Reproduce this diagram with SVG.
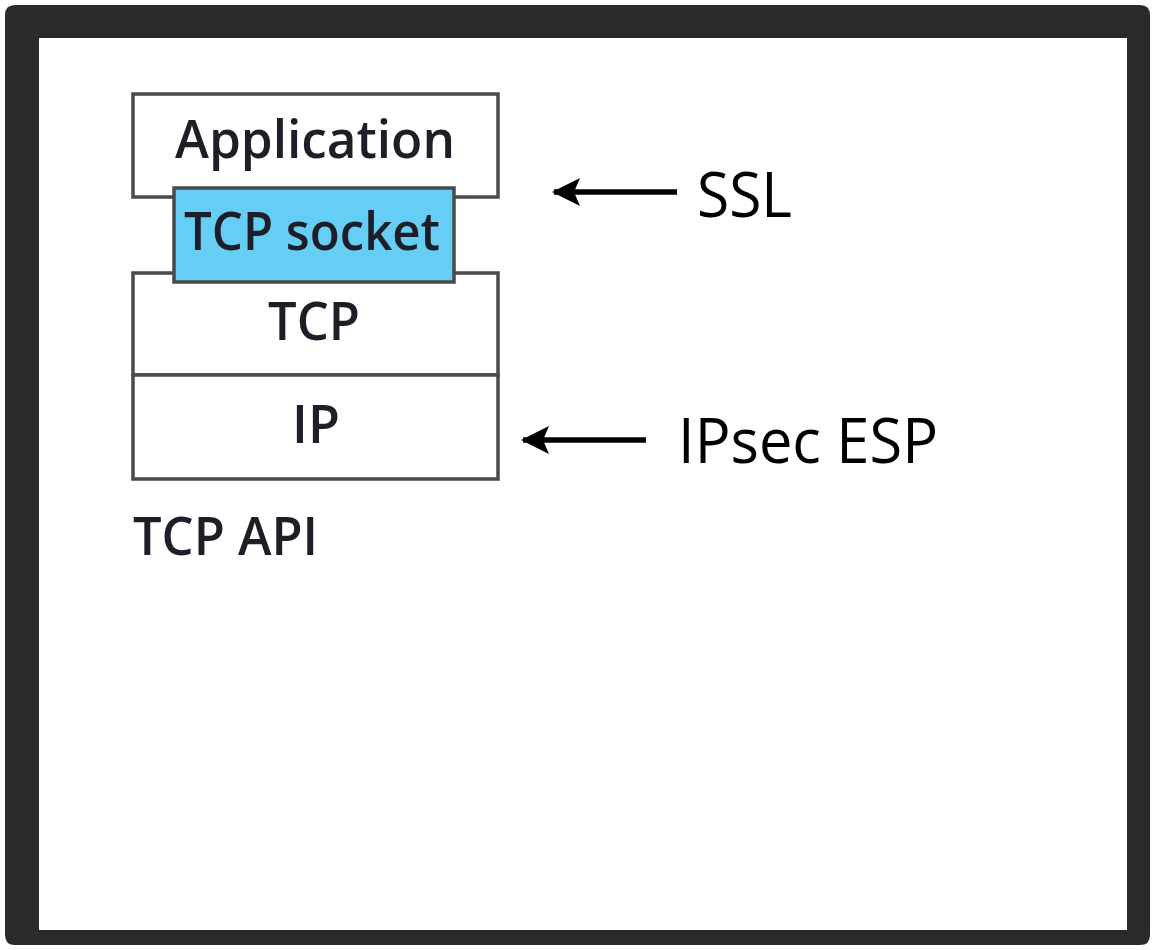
<svg xmlns="http://www.w3.org/2000/svg" width="1155" height="950" viewBox="0 0 1155 950">
<style>
.box{fill:#ffffff;stroke:#4a4a4a;stroke-width:3.5}
.lbl{font-family:"Open Sans","Noto Sans",sans-serif;font-size:52px;font-weight:600;fill:#1e1e28;text-anchor:middle}
.side{font-family:"Open Sans","Noto Sans",sans-serif;font-size:63px;fill:#000000}
.arr{stroke:#000;stroke-width:5.5;fill:none}
</style>
<defs>
<marker id="ah" markerUnits="userSpaceOnUse" markerWidth="30" markerHeight="30" refX="26" refY="14" orient="auto" viewBox="0 0 30 28">
<path d="M28,14 L0,0 L6,14 L0,28 Z" fill="#000"/>
</marker>
</defs>
<rect width="1155" height="950" fill="#ffffff"/>
<path id="frame" fill="#2a2a2a" fill-rule="evenodd" d="M15,5 H1140 Q1150,5 1150,15 V935 Q1150,945 1140,945 H15 Q5,945 5,935 V15 Q5,5 15,5 Z M39,38 V930 H1127 V38 Z"/>
<g id="application"><rect class="box" x="133" y="94" width="365" height="103"/><text class="lbl" x="315" y="158" textLength="280" lengthAdjust="spacingAndGlyphs">Application</text></g>
<g id="tcp"><rect class="box" x="133" y="273" width="365" height="102"/><text class="lbl" x="314" y="340" textLength="92" lengthAdjust="spacingAndGlyphs">TCP</text></g>
<g id="ip"><rect class="box" x="133" y="375" width="365" height="104"/><text class="lbl" x="316" y="443">IP</text></g>
<g id="tcp-socket"><rect x="174" y="188" width="280" height="94" fill="#66cdf4" stroke="#4a4a4a" stroke-width="3.5"/><text class="lbl" x="312" y="250" textLength="256" lengthAdjust="spacingAndGlyphs">TCP socket</text></g>
<g id="tcp-api"><text x="133" y="555" font-family="'Open Sans','Noto Sans',sans-serif" font-size="52" font-weight="600" fill="#1e1e28" textLength="185" lengthAdjust="spacingAndGlyphs">TCP API</text></g>
<g id="connectors">
<line class="arr" x1="677" y1="192" x2="554" y2="192" marker-end="url(#ah)"/>
<line class="arr" x1="646" y1="440" x2="523" y2="440" marker-end="url(#ah)"/>
</g>
<g id="ssl"><text class="side" x="697" y="217" textLength="95" lengthAdjust="spacingAndGlyphs">SSL</text></g>
<g id="ipsec"><text class="side" x="678" y="463" textLength="260" lengthAdjust="spacingAndGlyphs">IPsec ESP</text></g>
</svg>
